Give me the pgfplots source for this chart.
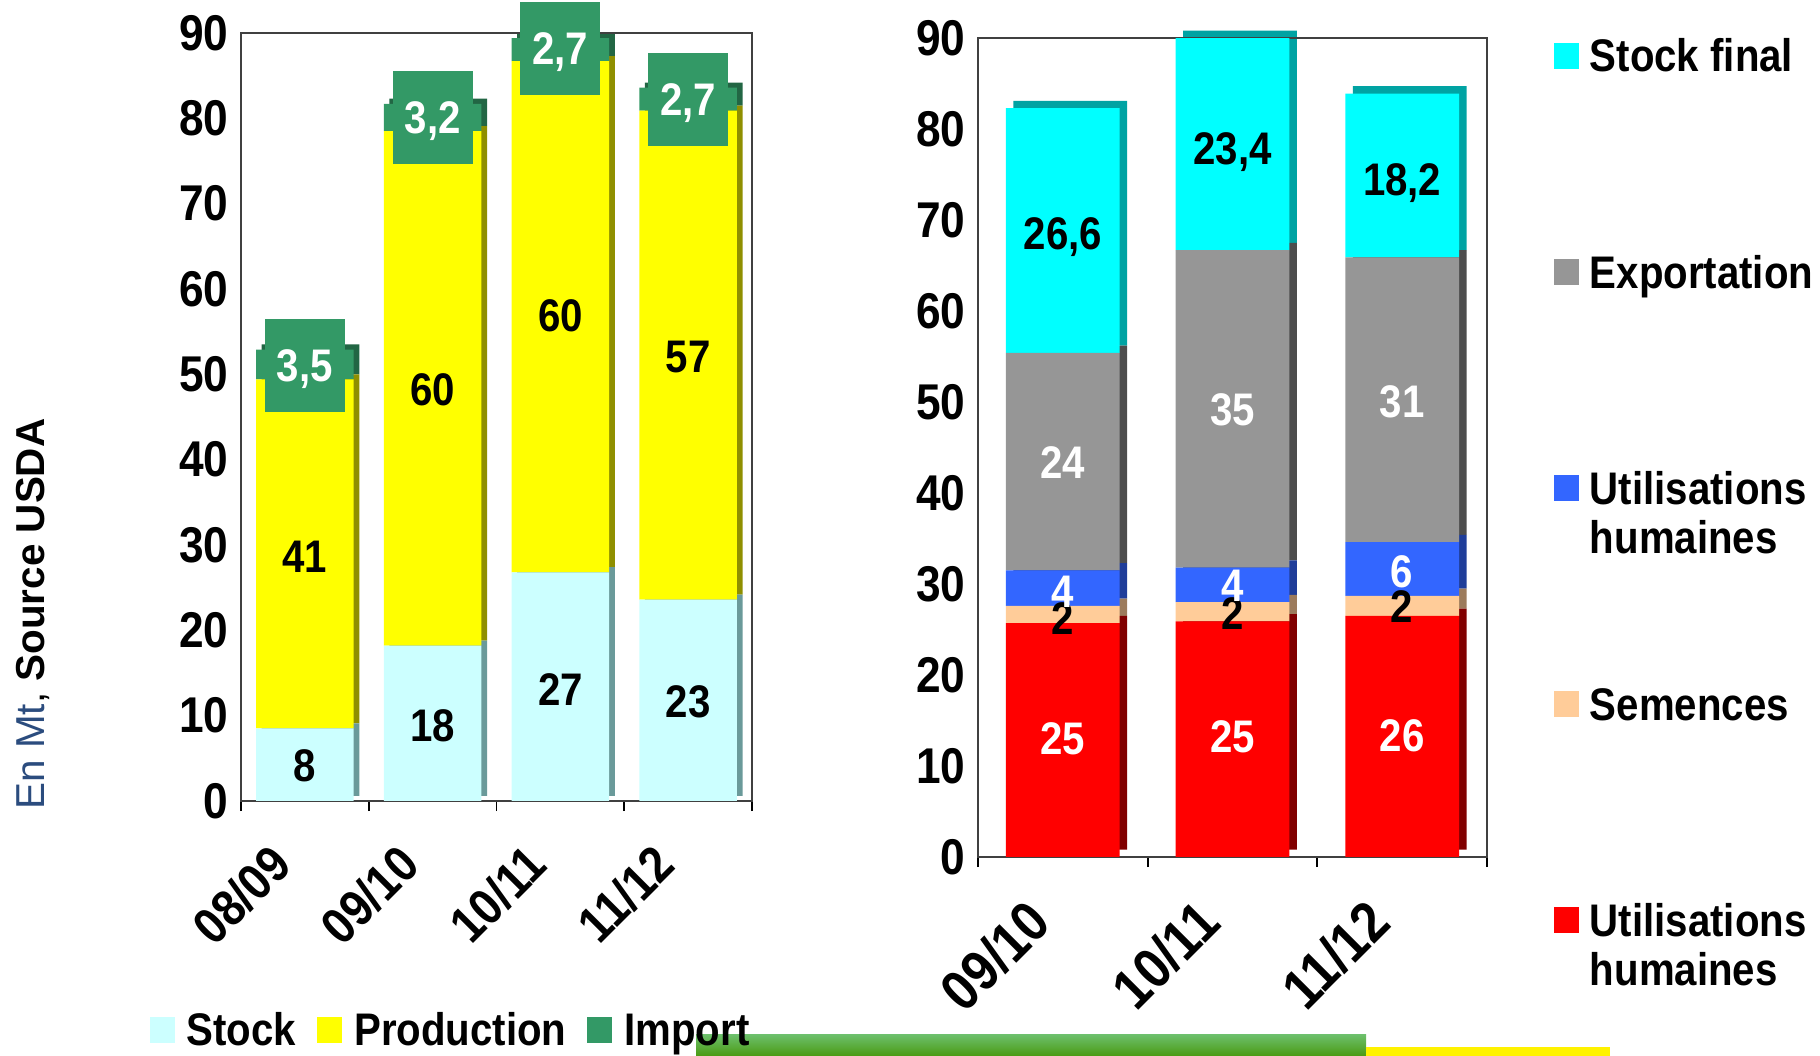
\documentclass[border=0pt]{standalone}
\usepackage{fontspec}
\setmainfont{Liberation Sans}
\newfontfamily\narrow[FakeStretch=0.88]{Liberation Sans}
\usepackage{pgfplots}
\pgfplotsset{compat=1.18}

\definecolor{stockc}{HTML}{CCFFFF}
\definecolor{stockd}{HTML}{6A9A9A}
\definecolor{prodc}{HTML}{FFFF00}
\definecolor{prodd}{HTML}{8F8F00}
\definecolor{impc}{HTML}{339966}
\definecolor{impd}{HTML}{226644}
\definecolor{redc}{HTML}{FF0000}
\definecolor{redd}{HTML}{800000}
\definecolor{semc}{HTML}{FFCC99}
\definecolor{semd}{HTML}{9C7B5C}
\definecolor{bluec}{HTML}{3366FF}
\definecolor{blued}{HTML}{1F3D99}
\definecolor{grayc}{HTML}{969696}
\definecolor{grayd}{HTML}{4D4D4D}
\definecolor{cyanc}{HTML}{00FFFF}
\definecolor{cyand}{HTML}{00A3A3}
\definecolor{enblue}{HTML}{2B4C7E}
\definecolor{stripA}{HTML}{6CBF6A}
\definecolor{stripB}{HTML}{4A9A12}

\newcommand\bfn{\narrow\bfseries\fontsize{13}{14}\selectfont}
\newcommand\bft{\narrow\bfseries\fontsize{14.3}{15}\selectfont}
\newcommand\bfx{\narrow\bfseries\fontsize{14.5}{15}\selectfont}
\newcommand\bfxr{\narrow\bfseries\fontsize{16.2}{17}\selectfont}

\pgfplotsset{
  leftax/.style={scale only axis, anchor=south west, at={(2.41cm,2.55cm)},
    width=5.11cm, height=7.68cm, xmin=-0.5, xmax=3.5, ymin=0, ymax=90,
    enlargelimits=false},
  rightax/.style={scale only axis, anchor=south west, at={(9.78cm,1.99cm)},
    width=5.09cm, height=8.19cm, xmin=-0.5, xmax=2.5, ymin=0, ymax=90,
    enlargelimits=false},
  frame/.style={
    axis line style={black!75, line width=0.5pt},
    ytick={0,10,...,90}, xtick pos=bottom, ytick pos=left,
    major tick length=0pt, minor tick length=0.1cm, tick align=outside,
    minor tick style={black, line width=0.5pt},
    /pgf/number format/assume math mode=true,
    yticklabel style={font=\bft},
    xticklabel style={xshift=-0.23cm, rotate=45, anchor=east, inner sep=0pt},
    xticklabel shift=0.54cm,
    legend image code/.code={\fill[##1, draw=none] (0cm,0.03cm) rectangle (0.25cm,0.29cm);},
  },
  labels/.style={hide axis, nodes near coords, point meta=explicit symbolic,
    nodes near coords align=center},
}

\begin{document}
\begin{tikzpicture}
\path[use as bounding box] (0,0) rectangle (18.2,10.56);

% slide decoration at the bottom
\shade[top color=stripA, bottom color=stripB] (6.96,0) rectangle (13.66,0.21);
\fill[yellow] (13.66,0) rectangle (16.1,0.09);

\node[rotate=90, font=\fontsize{11.5}{12}\selectfont] at (0.33,4.42)
  {\textcolor{enblue}{En Mt}, \textbf{Source USDA}};

% ---------- left chart: shadow (3D sides) ----------
\begin{axis}[leftax, hide axis, clip=false, ybar stacked, bar width=0.764, bar shift=0.056cm]
\addplot[fill=none, draw=none] coordinates {(0,0.6) (1,0.6) (2,0.6) (3,0.6)};
\addplot[fill=stockd, draw=none] coordinates {(0,8.5) (1,18.2) (2,26.8) (3,23.6)};
\addplot[fill=prodd, draw=none] coordinates {(0,40.9) (1,60.3) (2,59.9) (3,57.3)};
\addplot[fill=impd, draw=none] coordinates {(0,3.5) (1,3.2) (2,2.7) (3,2.7)};
\end{axis}

% ---------- left chart ----------
\begin{axis}[leftax, ybar stacked, bar width=0.764, frame,
  xtick={0,1,2,3}, xticklabels={08/09,09/10,10/11,11/12},
  xticklabel style={font=\bfx},
  minor xtick={-0.5,0.5,1.5,2.5,3.5},
  legend columns=3,
  legend style={draw=none, fill=none, inner sep=0pt, at={(-0.18,-0.275)},
    anchor=north west, font=\bfn, cells={anchor=base west},
    nodes={inner sep=0pt, text depth=},
    /tikz/every odd column/.append style={column sep=0.12cm},
    /tikz/every even column/.append style={column sep=0.21cm}},
]
\addplot[fill=stockc, draw=none] coordinates {(0,8.5) (1,18.2) (2,26.8) (3,23.6)};
\addlegendentry{Stock}
\addplot[fill=prodc, draw=none] coordinates {(0,40.9) (1,60.3) (2,59.9) (3,57.3)};
\addlegendentry{Production}
\addplot[fill=impc, draw=none] coordinates {(0,3.5) (1,3.2) (2,2.7) (3,2.7)};
\addlegendentry{Import}
\end{axis}

% ---------- left chart: value labels ----------
\begin{axis}[leftax, labels, clip=false]
\addplot[draw=none, mark=none, nodes near coords style={font=\bfn, text=black, text depth=0pt}]
  coordinates {(0,4.1)[8] (1,8.9)[18] (2,13.1)[27] (3,11.7)[23]
               (0,28.6)[41] (1,48.2)[60] (2,56.9)[60] (3,52.1)[57]};
\addplot[draw=none, mark=none, nodes near coords style={font=\bfn, text=white,
    fill=impc, minimum width=0.8cm, minimum height=0.93cm, inner sep=0pt, text depth=0pt}]
  coordinates {(0,51)[3,5] (1,80.1)[3,2] (2,88.2)[2,7] (3,82.2)[2,7]};
\end{axis}

% ---------- right chart: shadow (3D sides) ----------
\begin{axis}[rightax, hide axis, clip=false, ybar stacked, bar width=0.67, bar shift=0.075cm]
\addplot[fill=none, draw=none] coordinates {(0,0.8) (1,0.8) (2,0.8)};
\addplot[fill=redd, draw=none] coordinates {(0,25.7) (1,25.9) (2,26.5)};
\addplot[fill=semd, draw=none] coordinates {(0,1.9) (1,2.1) (2,2.2)};
\addplot[fill=blued, draw=none] coordinates {(0,3.9) (1,3.8) (2,5.9)};
\addplot[fill=grayd, draw=none] coordinates {(0,23.9) (1,34.9) (2,31.3)};
\addplot[fill=cyand, draw=none] coordinates {(0,26.9) (1,23.3) (2,18.0)};
\end{axis}

% ---------- right chart ----------
\begin{axis}[rightax, ybar stacked, bar width=0.67, frame,
  xtick={0,1,2}, xticklabels={09/10,10/11,11/12},
  xticklabel style={font=\bfxr},
  minor xtick={-0.5,0.5,1.5,2.5},
  reverse legend,
  legend style={draw=none, fill=none, inner sep=0pt, at={(1.13,1.0)},
    anchor=north west, font=\bfn, cells={anchor=base west},
    nodes={inner sep=0pt, text depth=}, row sep=1.34cm,
    /tikz/every odd column/.append style={column sep=0.11cm}},
]
\addplot[fill=redc, draw=none] coordinates {(0,25.7) (1,25.9) (2,26.5)};
\addlegendentry{\parbox[t]{3cm}{Utilisations\\humaines}}
\addplot[fill=semc, draw=none] coordinates {(0,1.9) (1,2.1) (2,2.2)};
\addlegendentry{\parbox[t]{3cm}{Semences\\\mbox{}}}
\addplot[fill=bluec, draw=none] coordinates {(0,3.9) (1,3.8) (2,5.9)};
\addlegendentry{\parbox[t]{3cm}{Utilisations\\humaines}}
\addplot[fill=grayc, draw=none] coordinates {(0,23.9) (1,34.9) (2,31.3)};
\addlegendentry{\parbox[t]{3cm}{Exportation\\\mbox{}}}
\addplot[fill=cyanc, draw=none] coordinates {(0,26.9) (1,23.3) (2,18.0)};
\addlegendentry{\parbox[t]{3cm}{Stock final\\\mbox{}}}
\end{axis}

% ---------- right chart: value labels ----------
\begin{axis}[rightax, labels, clip=false]
\addplot[draw=none, mark=none, nodes near coords style={font=\bfn, text=black, text depth=0pt}]
  coordinates {(0,26.2)[2] (1,26.8)[2] (2,27.5)[2]
               (0,68.5)[26,6] (1,77.9)[23,4] (2,74.5)[18,2]};
\addplot[draw=none, mark=none, nodes near coords style={font=\bfn, text=white, text depth=0pt}]
  coordinates {(0,13.0)[25] (1,13.2)[25] (2,13.4)[26]
               (0,29.1)[4] (1,29.8)[4] (2,31.4)[6]
               (0,43.3)[24] (1,49.2)[35] (2,50.1)[31]};
\end{axis}
\end{tikzpicture}
\end{document}
